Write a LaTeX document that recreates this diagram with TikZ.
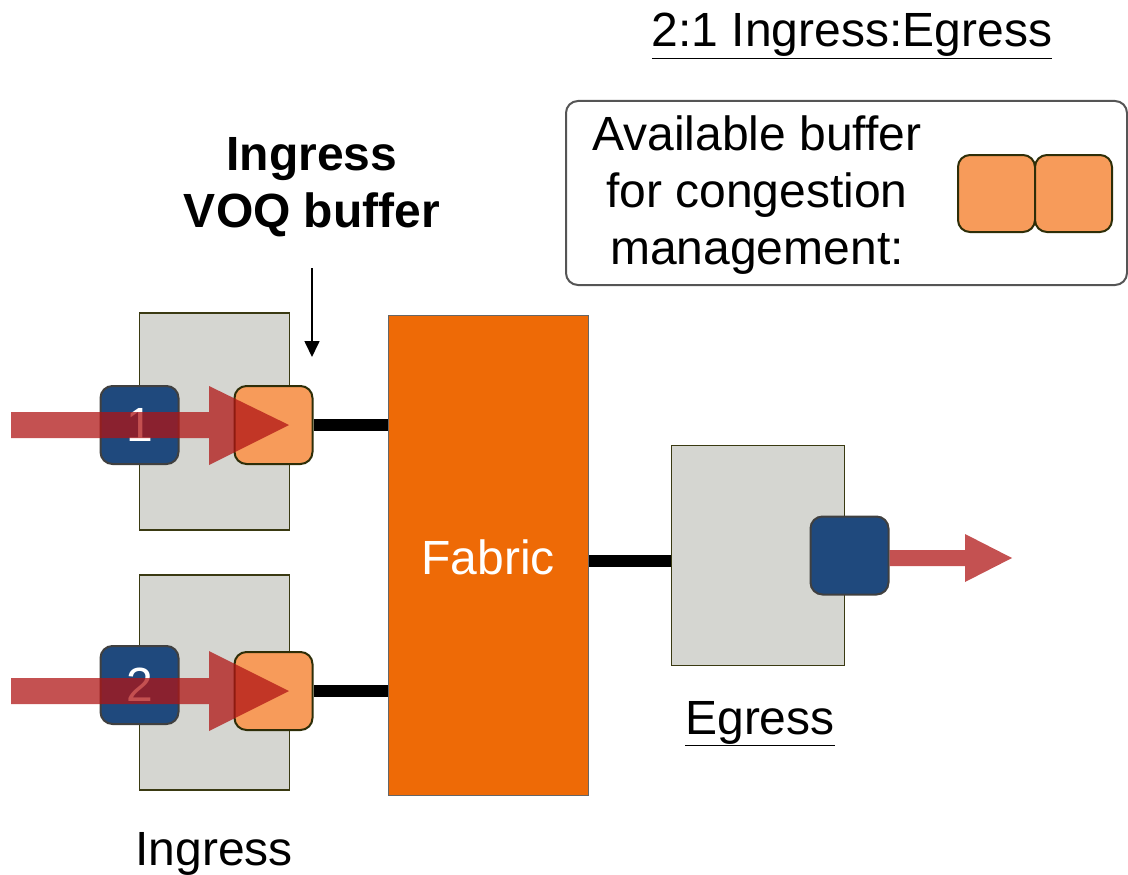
\documentclass[tikz,border=0pt]{standalone}
\usepackage{fontspec}
\setmainfont{Liberation Sans}
\usetikzlibrary{arrows.meta}
\definecolor{boxgray}{HTML}{D5D6D1}
\definecolor{boxline}{HTML}{3A3A12}
\definecolor{portblue}{HTML}{1F497D}
\definecolor{portline}{HTML}{404040}
\definecolor{buforange}{HTML}{F79B5A}
\definecolor{bufline}{HTML}{2E2E08}
\definecolor{fabricorange}{HTML}{EE6A06}
\definecolor{flowred}{RGB}{176,20,20}
\definecolor{legendline}{HTML}{555555}
\begin{document}
\begin{tikzpicture}[x=1pt,y=-1pt,
  txt/.style={font=\fontsize{48}{57}\selectfont, inner sep=0pt, anchor=base},
  card/.style={draw=boxline, fill=boxgray, line width=1.5pt, inner sep=0pt},
  port/.style={draw=portline, fill=portblue, line width=2pt, rounded corners=12pt,
    minimum width=78pt, minimum height=78pt, inner sep=0pt, text=white,
    font=\fontsize{48}{57}\selectfont},
  buf/.style={draw=bufline, fill=buforange, line width=2pt, rounded corners=12pt,
    minimum width=78pt, minimum height=78pt, inner sep=0pt},
  link/.style={line width=12pt, black},
  flow/.style={fill=flowred, fill opacity=0.74}
]
\useasboundingbox (0,0) rectangle (1128,875);

% title
\node[txt] (title) at (852,47) {\underline{2:1 Ingress:Egress}};

% ingress VOQ header
\node[txt, font=\fontsize{48}{57}\selectfont\bfseries] (hdr1) at (312,170) {Ingress};
\node[txt, font=\fontsize{48}{57}\selectfont\bfseries] (hdr2) at (312,227) {VOQ buffer};
\coordinate (dnA) at (312,268);
\coordinate (dnB) at (312,357);
\draw[line width=1.7pt, -{Triangle[length=16pt,width=15pt]}] (dnA) -- (dnB);

% legend
\node[draw=legendline, line width=2pt, rounded corners=12pt, minimum width=561pt,
  minimum height=184pt, inner sep=0pt] (legend) at (846.5,193) {};
\node[txt] (lg1) at (757,150) {Available buffer};
\node[txt] (lg2) at (757,207) {for congestion};
\node[txt] (lg3) at (757,264) {management:};
\node[buf, minimum width=77pt, minimum height=77pt] (lgb1) at (996.5,193.5) {};
\node[buf, minimum width=77pt, minimum height=77pt] (lgb2) at (1073.5,193.5) {};

% ingress cards
\node[card, minimum width=150pt, minimum height=217pt] (ing1) at (214.5,421.5) {};
\node[card, minimum width=150pt, minimum height=215pt] (ing2) at (214.5,682.5) {};

% fabric
\node[fill=fabricorange, draw=black!60, line width=1pt, minimum width=200pt,
  minimum height=480pt, inner sep=0pt] (fabric) at (488,555) {};
\node[txt, text=white] (fabtxt) at (488,574) {Fabric};

% egress card
\node[card, minimum width=173pt, minimum height=220pt] (eg) at (758,555.5) {};

% buffers and links
\node[buf] (buf1) at (273.5,425) {};
\node[buf] (buf2) at (273.5,691) {};
\draw[link] (buf1.east) -- (buf1.east -| fabric.west);
\draw[link] (buf2.east) -- (buf2.east -| fabric.west);
\draw[link] ([yshift=-5.5pt]eg.west) -- ([yshift=-5.5pt]eg.west -| fabric.east);

% ingress ports
\node[port] (p1) at (139.5,425) {1};
\node[port] (p2) at (139.5,685) {2};

% egress port
\node[port] (pe) at (849.5,555.5) {};

% flows
\coordinate (f1) at (11,425);
\fill[flow] (f1) ++(0,-13) -- (209,412) -- (209,386) -- (289,425) -- (209,465) -- (209,438) -- (11,438) -- cycle;
\coordinate (f2) at (11,691);
\fill[flow] (f2) ++(0,-13) -- (209,678) -- (209,651) -- (289,691) -- (209,731) -- (209,704) -- (11,704) -- cycle;
\fill[flow] (pe.east |- 0,550) -- (965,550) -- (965,534) -- (1012,558) -- (965,582) -- (965,566) -- (pe.east |- 0,566) -- cycle;

% labels
\node[txt] (eglbl) at (760,734) {\underline{Egress}};
\node[txt] (inglbl) at (214,865) {\underline{Ingress}};
\end{tikzpicture}
\end{document}
